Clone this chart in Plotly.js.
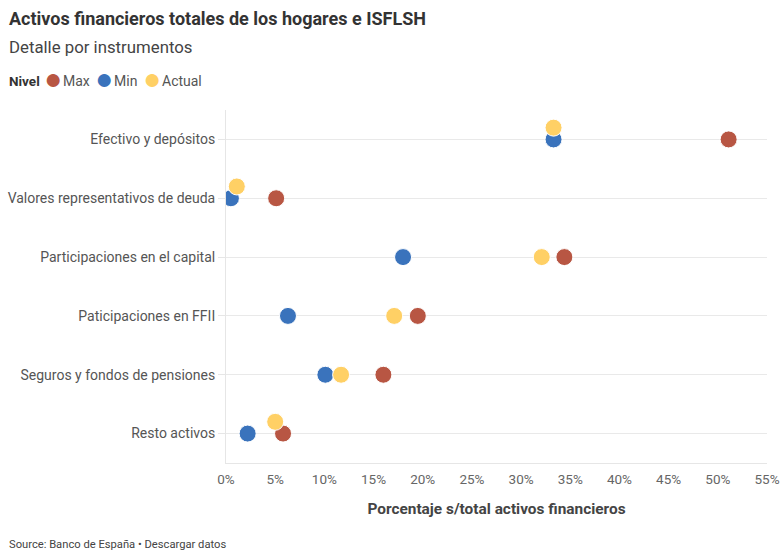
<!DOCTYPE html>
<html>
<head>
<meta charset="utf-8">
<script src="https://cdn.plot.ly/plotly-3.0.1.min.js"></script>
<style>
  html, body { margin: 0; padding: 0; background: #fff; }
  #chart { width: 781px; height: 551px; }
</style>
</head>
<body>
<div id="chart"></div>
<script>
var categories = [
    'Efectivo y depósitos',
    'Valores representativos de deuda',
    'Participaciones en el capital',
    'Paticipaciones en FFII',
    'Seguros y fondos de pensiones',
    'Resto activos'
];
var maxValues = [51.1, 5.1, 34.4, 19.5, 16.0, 5.8];
var minValues = [33.3, 0.5, 18.0, 6.3, 10.1, 2.2];
var actualValues = [33.3, 1.1, 32.1, 17.1, 11.7, 5.0];
var xTicks = [0, 5, 10, 15, 20, 25, 30, 35, 40, 45, 50, 55];

var seriesNames = ['Max', 'Min', 'Actual'];
var seriesColors = ['#b85643', '#3a73bc', '#ffd065'];

var rows = categories.map(function (c, i) { return i; });

// the "Actual" dot is lifted a little when it would sit on top of another dot
var actualRows = actualValues.map(function (v, i) {
    var clash = Math.abs(v - minValues[i]) < 1.5 || Math.abs(v - maxValues[i]) < 1.5;
    return clash ? i - 0.2 : i;
});

function dots(k, xs, ys) {
    return {
        x: xs,
        y: ys,
        name: seriesNames[k],
        type: 'scatter',
        mode: 'markers',
        text: categories,
        hovertemplate: '%{text}: %{x:.1f}%<extra>' + seriesNames[k] + '</extra>',
        marker: {size: 17, color: seriesColors[k], line: {color: '#ffffff', width: 1}}
    };
}

var traces = [
    dots(0, maxValues, rows),
    dots(1, minValues, rows),
    dots(2, actualValues, actualRows)
];

// plot area in pixels, used to place the header / footer texts
var M = {l: 226, r: 14, t: 110, b: 88};
var plotW = 781 - M.l - M.r;
var plotH = 551 - M.t - M.b;
function px(x) { return (x - M.l) / plotW; }
function py(y) { return (551 - M.b - y) / plotH; }

function note(text, x, y, size, color, anchor) {
    return {
        text: text, xref: 'paper', yref: 'paper',
        x: px(x), y: py(y), xanchor: anchor || 'left', yanchor: 'middle',
        showarrow: false, borderpad: 0,
        font: {size: size, color: color}
    };
}

var annotations = [
    note('<b>Activos financieros totales de los hogares e ISFLSH</b>', 8, 18, 18, '#333333'),
    note('Detalle por instrumentos', 8, 47, 16.8, '#444444'),
    note('<b>Nivel</b>', 8, 81, 13.5, '#333333'),
    note('Source: Banco de España • Descargar datos', 8, 544, 11.2, '#444444')
];
var legendDots = [53, 104, 152];
seriesNames.forEach(function (name, k) {
    annotations.push(note('●', legendDots[k], 79, 30, seriesColors[k], 'center'));
    annotations.push(note(name, legendDots[k] + 9, 81, 14, '#555555'));
});

var layout = {
    width: 781,
    height: 551,
    margin: M,
    paper_bgcolor: '#ffffff',
    plot_bgcolor: '#ffffff',
    font: {family: 'Roboto, sans-serif', color: '#555555', size: 14},
    showlegend: false,
    xaxis: {
        range: [0, 55],
        tickvals: xTicks,
        ticktext: xTicks.map(function (t) { return t + '%'; }),
        showgrid: false,
        zeroline: false,
        showline: true,
        linecolor: '#e6e6e6',
        linewidth: 1,
        ticks: '',
        ticklabelstandoff: 4,
        tickfont: {size: 13.5, color: '#666666'},
        title: {
            text: '<b>Porcentaje s/total activos financieros</b>',
            font: {size: 15.4, color: '#444444'},
            standoff: 17
        },
        fixedrange: true
    },
    yaxis: {
        range: [5.5, -0.5],
        tickvals: rows,
        ticktext: categories,
        showgrid: true,
        gridcolor: '#e9e9e9',
        gridwidth: 1,
        zeroline: false,
        showline: true,
        linecolor: '#e6e6e6',
        ticks: 'outside',
        ticklen: 7,
        tickcolor: '#e6e6e6',
        tickfont: {size: 14, color: '#555555'},
        fixedrange: true
    },
    annotations: annotations
};

Plotly.newPlot('chart', traces, layout, {displayModeBar: false, responsive: false});
</script>
</body>
</html>
